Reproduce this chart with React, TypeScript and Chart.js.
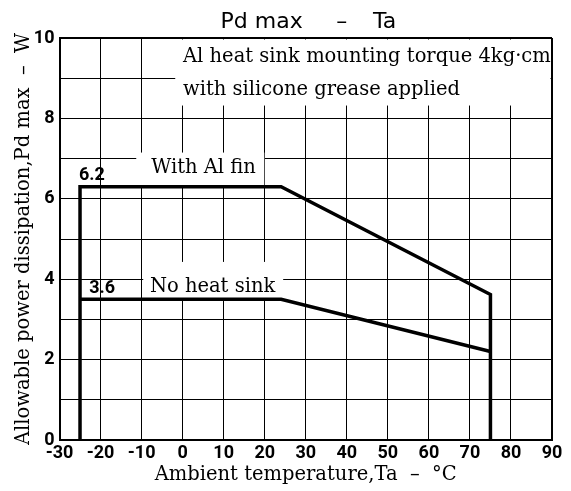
import React, { useEffect, useRef } from 'react';
import { Chart, registerables } from 'chart.js';

Chart.register(...registerables);

// ---- data ----
const alFinTemps = [-25, -25, 24, 75, 75];
const alFinPower = [0, 6.3, 6.3, 3.62, 0];
const noSinkTemps = [-25, 24, 75];
const noSinkPower = [3.5, 3.5, 2.2];
const seriesLabels = ['With Al fin', 'No heat sink'];
const markerLabels = ['6.2', '3.6'];
const xRange = [-30, 90];
const yRange = [0, 10];
const titleParts = ['Pd max', '–', 'Ta'];
const xTitle = 'Ambient temperature,Ta  –  °C';
const yTitle = 'Allowable power dissipation,Pd max  –  W';
const noteLines = ['Al heat sink mounting torque 4kg·cm', 'with silicone grease applied'];

const SERIF = '"DejaVu Serif", serif';
const TICKFONT = 'Roboto, "DejaVu Sans", sans-serif';

const overlayPlugin = {
  id: 'overlay',
  beforeDatasetsDraw(chart: any) {
    const { ctx, scales } = chart;
    const xs = scales.x;
    const ys = scales.y;
    const px = (v: number) => xs.getPixelForValue(v);
    const py = (v: number) => ys.getPixelForValue(v);
    ctx.save();
    ctx.fillStyle = '#ffffff';
    // note box (top right)
    {
      const l = px(-1.8), r = px(90) - 1.5, t = py(10) + 1.5, b = py(8.32);
      ctx.fillRect(l, t, r - l, b - t);
    }
    // "With Al fin" label background
    {
      const l = px(-11.3), r = px(19.9), t = py(7.15), b = py(6.3);
      ctx.fillRect(l, t, r - l, b - t);
    }
    // "No heat sink" label background
    {
      const l = px(-9.6), r = px(24.5), t = py(4.43), b = py(3.5);
      ctx.fillRect(l, t, r - l, b - t);
    }
    ctx.restore();
  },
  afterDatasetsDraw(chart: any) {
    const { ctx, scales } = chart;
    const xs = scales.x;
    const ys = scales.y;
    const px = (v: number) => xs.getPixelForValue(v);
    const py = (v: number) => ys.getPixelForValue(v);
    ctx.save();
    ctx.fillStyle = '#000';
    ctx.textBaseline = 'alphabetic';
    ctx.font = `19.5px ${SERIF}`;
    ctx.textAlign = 'left';
    ctx.fillText(noteLines[0], px(0.1), py(9.4));
    ctx.fillText(noteLines[1], px(0.1), py(8.57));
    ctx.textAlign = 'center';
    ctx.fillText(seriesLabels[0], px(5.1), py(6.64));
    ctx.fillText(seriesLabels[1], px(7.3), py(3.68));
    ctx.font = `bold 18px ${TICKFONT}`;
    ctx.textBaseline = 'middle';
    ctx.fillText(markerLabels[0], px(-22.1), py(6.59));
    ctx.fillText(markerLabels[1], px(-19.6), py(3.77));
    ctx.restore();
  },
  afterDraw(chart: any) {
    const { ctx } = chart;
    ctx.save();
    ctx.fillStyle = '#000';
    ctx.font = '22px "DejaVu Sans", sans-serif';
    ctx.textBaseline = 'alphabetic';
    ctx.textAlign = 'left';
    ctx.fillText(titleParts[0], 220.5, 28);
    ctx.textAlign = 'center';
    ctx.fillText(titleParts[1], 341.7, 28);
    ctx.textAlign = 'left';
    ctx.fillText(titleParts[2], 373, 28);
    ctx.restore();
  },
};

export default function App() {
  const canvasRef = useRef<HTMLCanvasElement | null>(null);

  useEffect(() => {
    const canvas = canvasRef.current;
    if (!canvas) return;
    const edgeWidth = (value: number, edge: number) => (value === edge ? 2 : 1);
    const chart = new Chart(canvas, {
      type: 'line',
      data: {
        datasets: [
          {
            label: seriesLabels[0],
            data: alFinTemps.map((t, i) => ({ x: t, y: alFinPower[i] })),
            borderColor: '#000',
            borderWidth: 3.5,
            pointRadius: 0,
            tension: 0,
            fill: false,
            borderJoinStyle: 'miter',
          },
          {
            label: seriesLabels[1],
            data: noSinkTemps.map((t, i) => ({ x: t, y: noSinkPower[i] })),
            borderColor: '#000',
            borderWidth: 3.5,
            pointRadius: 0,
            tension: 0,
            fill: false,
            borderJoinStyle: 'miter',
          },
        ],
      },
      options: {
        responsive: false,
        animation: false,
        devicePixelRatio: 1,
        layout: { padding: { top: 38, right: 19, left: 0, bottom: 0 } },
        plugins: {
          legend: { display: false },
          tooltip: { enabled: false },
          title: { display: false },
        },
        scales: {
          x: {
            type: 'linear',
            min: xRange[0],
            max: xRange[1],
            afterFit: (scale: any) => {
              scale.height = 51;
            },
            ticks: {
              stepSize: 10,
              color: '#000',
              padding: 3,
              maxRotation: 0,
              font: { family: TICKFONT, size: 18, weight: 'bold' },
            },
            grid: {
              color: '#000',
              lineWidth: (c: any) => edgeWidth(c.tick ? c.tick.value : 0, xRange[1]),
              drawTicks: false,
            },
            border: { display: true, color: '#000', width: 2 },
            title: {
              display: true,
              text: xTitle,
              color: '#000',
              font: { family: SERIF, size: 19.5, weight: 'normal' },
              padding: { top: 0, bottom: 4 },
            },
          },
          y: {
            type: 'linear',
            min: yRange[0],
            max: yRange[1],
            afterFit: (scale: any) => {
              scale.width = 59.5;
            },
            ticks: {
              stepSize: 1,
              color: '#000',
              padding: 5,
              font: { family: TICKFONT, size: 18, weight: 'bold' },
              callback: (v: any) => (Number(v) % 2 === 0 ? String(v) : ''),
            },
            grid: {
              color: '#000',
              lineWidth: (c: any) => edgeWidth(c.tick ? c.tick.value : 0, yRange[1]),
              drawTicks: false,
            },
            border: { display: true, color: '#000', width: 2 },
            title: {
              display: true,
              text: yTitle,
              color: '#000',
              font: { family: SERIF, size: 19.5, weight: 'normal' },
              padding: { top: 12, bottom: 0 },
            },
          },
        },
      },
      plugins: [overlayPlugin],
    } as any);
    return () => chart.destroy();
  }, []);

  return (
    <div style={{ position: 'absolute', left: 0, top: 0, width: 571, height: 491, background: '#fff' }}>
      <canvas ref={canvasRef} width={571} height={491} style={{ display: 'block', width: 571, height: 491 }} />
    </div>
  );
}
